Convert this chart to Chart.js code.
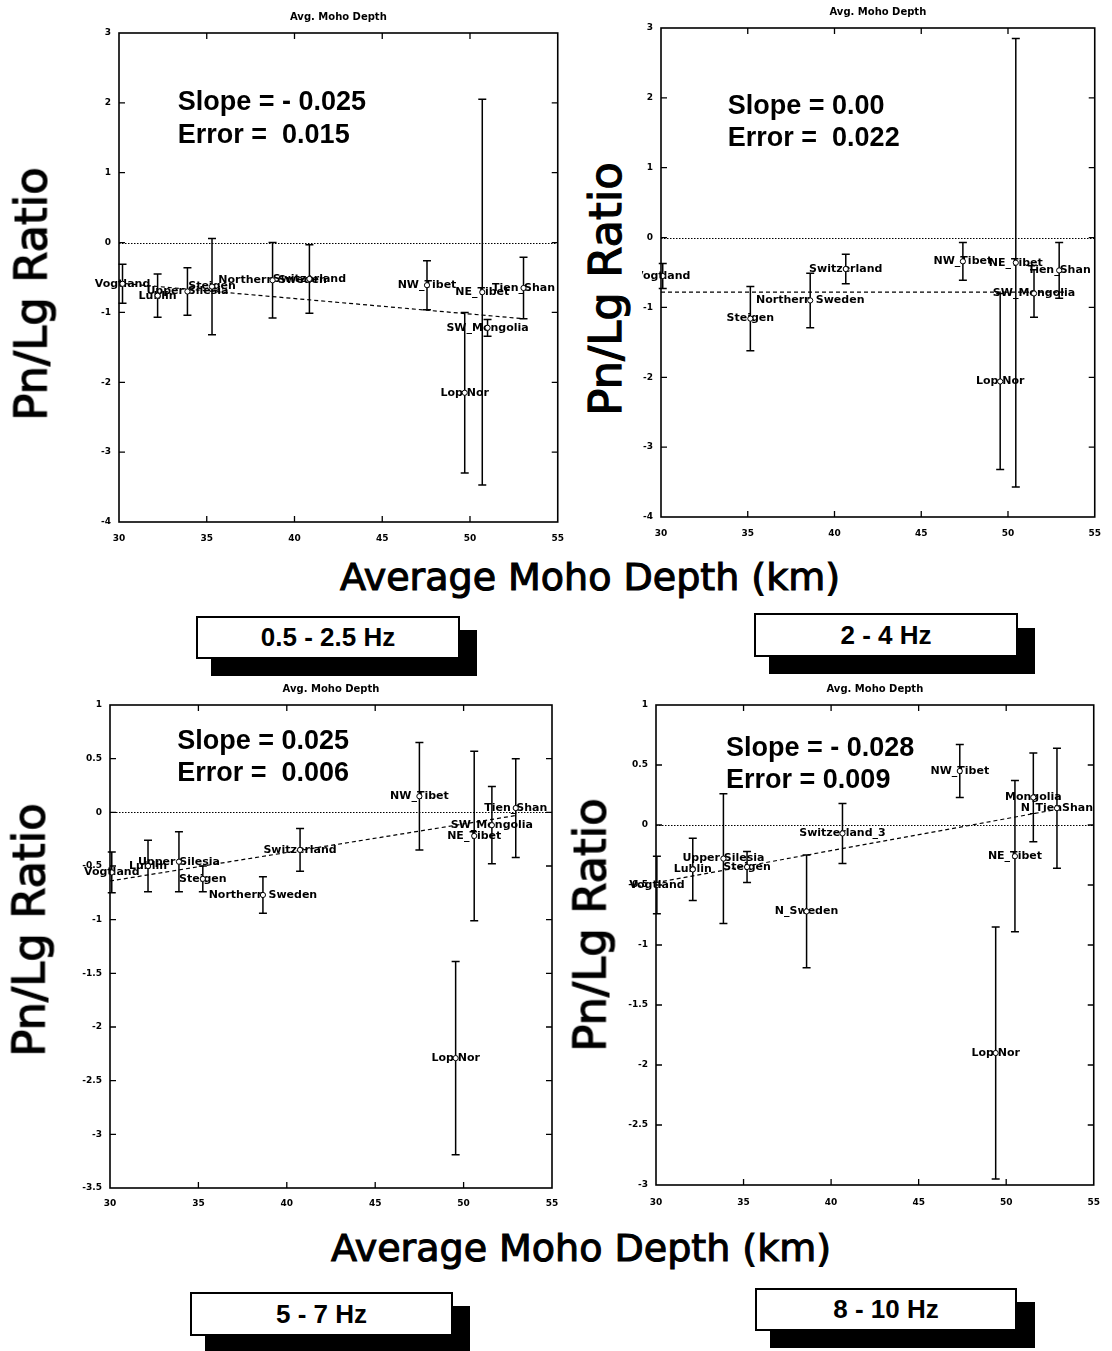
<!DOCTYPE html>
<html><head><meta charset="utf-8">
<script src="https://cdn.jsdelivr.net/npm/chart.js@4.4.1/dist/chart.umd.min.js"></script>
<style>
body{margin:0;background:#fff;width:1112px;height:1351px;position:relative;overflow:hidden;font-family:"DejaVu Sans",sans-serif;color:#000;}
canvas{position:absolute;}
.ytitle{position:absolute;font:normal 45px "DejaVu Sans";-webkit-text-stroke:1.2px #000;transform:translate(-50%,-50%) rotate(-90deg);white-space:nowrap;line-height:1;}
.xtitle{position:absolute;font:normal 38px "DejaVu Sans";-webkit-text-stroke:1.1px #000;transform:translate(-50%,-50%);white-space:nowrap;line-height:1;}
.shadow{position:absolute;background:#000;}
.box{position:absolute;background:#fff;border:2px solid #000;box-sizing:border-box;font:bold 26px "Liberation Sans";display:flex;align-items:center;justify-content:center;}
</style></head>
<body>
<canvas id="c1" width="575" height="545" style="left:0;top:0"></canvas>
<canvas id="c2" width="470" height="545" style="left:642px;top:0"></canvas>
<canvas id="c3" width="575" height="545" style="left:0;top:680px"></canvas>
<canvas id="c4" width="512" height="545" style="left:600px;top:680px"></canvas>

<div class="ytitle" style="left:31px;top:294px">Pn/Lg Ratio</div>
<div class="ytitle" style="left:605px;top:289px">Pn/Lg Ratio</div>
<div class="ytitle" style="left:29px;top:930px">Pn/Lg Ratio</div>
<div class="ytitle" style="left:590px;top:925px">Pn/Lg Ratio</div>
<div class="xtitle" style="left:590px;top:577px">Average Moho Depth (km)</div>
<div class="xtitle" style="left:581px;top:1248px">Average Moho Depth (km)</div>

<div class="shadow" style="left:211px;top:630px;width:266px;height:46px"></div>
<div class="box" style="left:196px;top:616px;width:264px;height:43px" id="b1"></div>
<div class="shadow" style="left:769px;top:628px;width:266px;height:46px"></div>
<div class="box" style="left:754px;top:613px;width:264px;height:44px" id="b2"></div>
<div class="shadow" style="left:205px;top:1306px;width:265px;height:50px"></div>
<div class="box" style="left:190px;top:1292px;width:263px;height:44px" id="b3"></div>
<div class="shadow" style="left:770px;top:1302px;width:265px;height:46px"></div>
<div class="box" style="left:755px;top:1288px;width:262px;height:43px" id="b4"></div>

<script>
// ---------- shared ----------
const axisTitle = "Avg. Moho Depth";
const xTicks = [30, 35, 40, 45, 50, 55];
const bandLabels = ["0.5 - 2.5 Hz", "2 - 4 Hz", "5 - 7 Hz", "8 - 10 Hz"];

// ---------- 0.5 - 2.5 Hz ----------
const names1 = ["Vogtland","Lublin","Upper Silesia","Steigen","Northern Sweden","Switzerland","NW_Tibet","Lop Nor","NE_Tibet","SW_Mongolia","Tien_Shan"];
const depth1 = [30.2, 32.2, 33.9, 35.3, 38.75, 40.85, 47.55, 49.7, 50.7, 51.0, 53.05];
const ratio1 = [-0.59, -0.76, -0.70, -0.63, -0.54, -0.52, -0.61, -2.15, -0.71, -1.22, -0.65];
const err1   = [0.28, 0.31, 0.34, 0.69, 0.54, 0.49, 0.35, 1.15, 2.76, 0.12, 0.44];
const fitX1 = [30, 53.05];
const fitY1 = [-0.58, -1.09];
const yTicks1 = [-4, -3, -2, -1, 0, 1, 2, 3];
const notes1 = ["Slope = - 0.025", "Error =  0.015"];

// ---------- 2 - 4 Hz ----------
const names2 = ["Vogtland","Steigen","Northern Sweden","Switzerland","NW_Tibet","Lop Nor","NE_Tibet","SW_Mongolia","Tien_Shan"];
const depth2 = [30.1, 35.15, 38.6, 40.65, 47.4, 49.55, 50.45, 51.5, 52.95];
const ratio2 = [-0.55, -1.16, -0.90, -0.45, -0.34, -2.06, -0.36, -0.80, -0.47];
const err2   = [0.18, 0.46, 0.39, 0.21, 0.27, 1.26, 3.21, 0.34, 0.40];
const fitX2 = [30, 53.3];
const fitY2 = [-0.78, -0.78];
const yTicks2 = [-4, -3, -2, -1, 0, 1, 2, 3];
const notes2 = ["Slope = 0.00", "Error =  0.022"];

// ---------- 5 - 7 Hz ----------
const names3 = ["Vogtland","Lublin","Upper Silesia","Steigen","Northern Sweden","Switzerland","NW_Tibet","Lop Nor","NE_Tibet","SW_Mongolia","Tien_Shan"];
const depth3 = [30.1, 32.15, 33.9, 35.25, 38.65, 40.75, 47.5, 49.55, 50.6, 51.6, 52.95];
const ratio3 = [-0.56, -0.50, -0.46, -0.62, -0.77, -0.35, 0.15, -2.29, -0.22, -0.12, 0.04];
const err3   = [0.19, 0.24, 0.28, 0.12, 0.17, 0.20, 0.50, 0.90, 0.79, 0.36, 0.46];
const fitX3 = [30, 52.95];
const fitY3 = [-0.64, -0.03];
const yTicks3 = [-3.5, -3, -2.5, -2, -1.5, -1, -0.5, 0, 0.5, 1];
const notes3 = ["Slope = 0.025", "Error =  0.006"];

// ---------- 8 - 10 Hz ----------
const names4 = ["Vogtland","Lublin","Upper Silesia","Steigen","N_Sweden","Switzerland_3","NW_Tibet","Lop Nor","NE_Tibet","Mongolia","N_TienShan"];
const depth4 = [30.05, 32.1, 33.85, 35.2, 38.6, 40.65, 47.35, 49.4, 50.5, 51.55, 52.9];
const ratio4 = [-0.50, -0.37, -0.28, -0.35, -0.72, -0.07, 0.45, -1.90, -0.26, 0.23, 0.14];
const err4   = [0.24, 0.26, 0.54, 0.13, 0.47, 0.25, 0.22, 1.05, 0.63, 0.37, 0.50];
const fitX4 = [30, 52.9];
const fitY4 = [-0.48, 0.13];
const yTicks4 = [-3, -2.5, -2, -1.5, -1, -0.5, 0, 0.5, 1];
const notes4 = ["Slope = - 0.028", "Error = 0.009"];

// ---------- layout (positions / sizes only) ----------
const panels = [
  {id:'c1', box:'b1', band:bandLabels[0], names:names1, depth:depth1, ratio:ratio1, err:err1, fitX:fitX1, fitY:fitY1, yTicks:yTicks1, notes:notes1,
   yW:119, padTop:33, padRight:15, xH:23, xPad:11, yPad:8, noteX:33.35, noteY:[2.0, 1.53]},
  {id:'c2', box:'b2', band:bandLabels[1], names:names2, depth:depth2, ratio:ratio2, err:err2, fitX:fitX2, fitY:fitY2, yTicks:yTicks2, notes:notes2,
   yW:19, padTop:28, padRight:10, xH:28, xPad:11, yPad:8, noteX:33.85, noteY:[1.88, 1.42]},
  {id:'c3', box:'b3', band:bandLabels[2], names:names3, depth:depth3, ratio:ratio3, err:err3, fitX:fitX3, fitY:fitY3, yTicks:yTicks3, notes:notes3,
   yW:110, padTop:25, padRight:23, xH:37, xPad:10, yPad:8, noteX:33.8, noteY:[0.66, 0.36]},
  {id:'c4', box:'b4', band:bandLabels[3], names:names4, depth:depth4, ratio:ratio4, err:err4, fitX:fitX4, fitY:fitY4, yTicks:yTicks4, notes:notes4,
   yW:56, padTop:25, padRight:14, xH:40, xPad:12, yPad:8, noteX:34.0, noteY:[0.64, 0.37]}
];

Chart.defaults.font.family = "DejaVu Sans";
Chart.defaults.color = "#000";

function makePanel(p) {
  document.getElementById(p.box).textContent = p.band;
  const yMin = Math.min(...p.yTicks), yMax = Math.max(...p.yTicks);
  const plugin = {
    id: 'panel_' + p.id,
    beforeDatasetsDraw(chart) {
      const c = chart.ctx, a = chart.chartArea, xs = chart.scales.x, ys = chart.scales.y;
      c.save();
      c.strokeStyle = '#000'; c.lineWidth = 1; c.setLineDash([1.5, 1.5]);
      const y0 = Math.round(ys.getPixelForValue(0)) + 0.5;
      c.beginPath(); c.moveTo(a.left, y0); c.lineTo(a.right, y0); c.stroke();
      c.setLineDash([]);
      c.lineWidth = 1.5;
      p.depth.forEach((d, i) => {
        const x = xs.getPixelForValue(d);
        const yt = ys.getPixelForValue(Math.min(p.ratio[i] + p.err[i], yMax));
        const yb = ys.getPixelForValue(Math.max(p.ratio[i] - p.err[i], yMin));
        c.beginPath();
        c.moveTo(x, yt); c.lineTo(x, yb);
        c.moveTo(x - 4, yt); c.lineTo(x + 4, yt);
        c.moveTo(x - 4, yb); c.lineTo(x + 4, yb);
        c.stroke();
      });
      c.fillStyle = '#000';
      c.font = 'bold 11px "DejaVu Sans"';
      c.textAlign = 'center'; c.textBaseline = 'middle';
      p.names.forEach((n, i) => {
        c.fillText(n, xs.getPixelForValue(p.depth[i]), ys.getPixelForValue(p.ratio[i]));
      });
      c.restore();
    },
    afterDatasetsDraw(chart) {
      const c = chart.ctx, a = chart.chartArea, xs = chart.scales.x, ys = chart.scales.y;
      c.save();
      c.strokeStyle = '#000'; c.lineWidth = 1.6;
      c.strokeRect(a.left, a.top, a.right - a.left, a.bottom - a.top);
      c.lineWidth = 1.3;
      c.beginPath();
      p.yTicks.forEach(v => {
        if (v === yMin || v === yMax) return;
        const y = ys.getPixelForValue(v);
        c.moveTo(a.left, y); c.lineTo(a.left + 6, y);
        c.moveTo(a.right, y); c.lineTo(a.right - 6, y);
      });
      xTicks.forEach((v, i) => {
        if (i === 0 || i === xTicks.length - 1) return;
        const x = xs.getPixelForValue(v);
        c.moveTo(x, a.top); c.lineTo(x, a.top + 6);
        c.moveTo(x, a.bottom); c.lineTo(x, a.bottom - 6);
      });
      c.stroke();
      c.fillStyle = '#000';
      c.font = 'bold 27px "Liberation Sans"';
      c.textAlign = 'left'; c.textBaseline = 'middle';
      const nx = xs.getPixelForValue(p.noteX);
      p.notes.forEach((t, i) => c.fillText(t, nx, ys.getPixelForValue(p.noteY[i])));
      c.font = 'bold 10px "DejaVu Sans"';
      c.textAlign = 'center'; c.textBaseline = 'middle';
      c.fillText(axisTitle, (a.left + a.right) / 2, a.top - 16);
      c.restore();
    }
  };
  return new Chart(document.getElementById(p.id), {
    type: 'scatter',
    data: { datasets: [
      { data: p.depth.map((x, i) => ({x: x, y: p.ratio[i]})),
        pointRadius: 2.6, pointBackgroundColor: '#fff', pointBorderColor: '#000', pointBorderWidth: 1, showLine: false },
      { type: 'line', data: p.fitX.map((x, i) => ({x: x, y: p.fitY[i]})),
        borderColor: '#000', borderWidth: 1.2, borderDash: [4, 3], pointRadius: 0, fill: false }
    ]},
    options: {
      responsive: false, animation: false, devicePixelRatio: 1,
      layout: { padding: { left: 0, top: p.padTop, right: p.padRight, bottom: 0 } },
      plugins: { legend: { display: false }, tooltip: { enabled: false }, title: { display: false } },
      scales: {
        x: { type: 'linear', min: 30, max: 55,
             afterBuildTicks: s => { s.ticks = xTicks.map(v => ({value: v})); },
             afterFit: s => { s.height = p.xH; },
             grid: { display: false, drawTicks: false }, border: { display: false },
             ticks: { padding: p.xPad, maxRotation: 0, autoSkip: false, font: { weight: 'bold', size: 9 }, color: '#000', callback: v => String(v) } },
        y: { type: 'linear', min: yMin, max: yMax,
             afterBuildTicks: s => { s.ticks = p.yTicks.map(v => ({value: v})); },
             afterFit: s => { s.width = p.yW; },
             grid: { display: false, drawTicks: false }, border: { display: false },
             ticks: { padding: p.yPad, autoSkip: false, font: { weight: 'bold', size: 9 }, color: '#000', callback: v => String(v) } }
      }
    },
    plugins: [plugin]
  });
}
panels.forEach(makePanel);
</script>
</body></html>
